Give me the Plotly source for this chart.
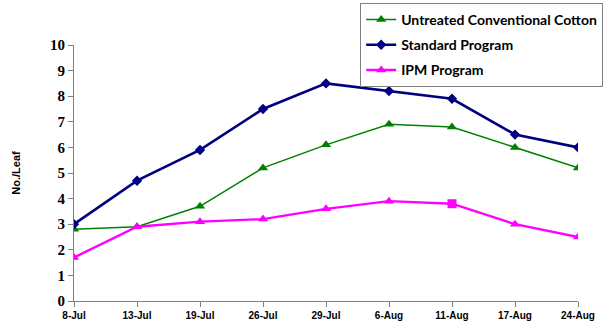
import plotly.graph_objects as go

# Sampling dates (category axis)
dates = ["8-Jul", "13-Jul", "19-Jul", "26-Jul", "29-Jul", "6-Aug", "11-Aug", "17-Aug", "24-Aug"]

# Counts per leaf for each programme
untreated = [2.8, 2.9, 3.7, 5.2, 6.1, 6.9, 6.8, 6.0, 5.2]
standard = [3.0, 4.7, 5.9, 7.5, 8.5, 8.2, 7.9, 6.5, 6.0]
ipm = [1.7, 2.9, 3.1, 3.2, 3.6, 3.9, 3.8, 3.0, 2.5]

# IPM marker shapes (one point drawn as a square)
ipm_symbols = ["triangle-up"] * 6 + ["square"] + ["triangle-up"] * 2

fig = go.Figure()
fig.add_trace(go.Scatter(
    x=dates, y=untreated, name="Untreated Conventional Cotton", legendgroup="a",
    mode="lines+markers", line=dict(color="#008000", width=1.5),
    marker=dict(symbol="triangle-up", size=9, color="#008000"),
))
fig.add_trace(go.Scatter(
    x=dates, y=standard, name="Standard Program", legendgroup="b",
    mode="lines+markers", line=dict(color="#000080", width=2.6),
    marker=dict(symbol="diamond", size=8, color="#000080"),
))
fig.add_trace(go.Scatter(
    x=dates, y=ipm, name="IPM Program", legendgroup="c",
    mode="lines+markers", line=dict(color="#FF00FF", width=2.4),
    marker=dict(symbol=ipm_symbols, size=9, color="#FF00FF"),
))

fig.update_layout(
    width=605, height=330,
    margin=dict(l=74, r=27, t=45, b=29, autoexpand=False),
    plot_bgcolor="white", paper_bgcolor="white",
    showlegend=True,
    legend=dict(
        xref="container", yref="container",
        x=0.997, y=0.991, xanchor="right", yanchor="top",
        bordercolor="#808080", borderwidth=1, bgcolor="white",
        font=dict(family="Lato", size=14, color="black", weight="bold"),
        tracegroupgap=4, itemwidth=30,
    ),
    xaxis=dict(
        type="category", range=[0, len(dates) - 1],
        showline=True, linecolor="#808080", linewidth=1,
        ticks="outside", ticklen=5, tickcolor="#808080",
        showgrid=False, zeroline=False,
        tickfont=dict(family="Liberation Sans", size=10, color="black", weight="bold"),
    ),
    yaxis=dict(
        range=[0, 10], dtick=1,
        showline=True, linecolor="#808080", linewidth=1,
        ticks="outside", ticklen=5, tickcolor="#808080",
        showgrid=False, zeroline=False,
        tickfont=dict(family="Liberation Serif", size=15, color="black", weight="bold"),
        title=dict(text="No./Leaf", standoff=27,
                   font=dict(family="Liberation Sans", size=11, color="black", weight="bold")),
    ),
)

fig.write_html("out.html")
